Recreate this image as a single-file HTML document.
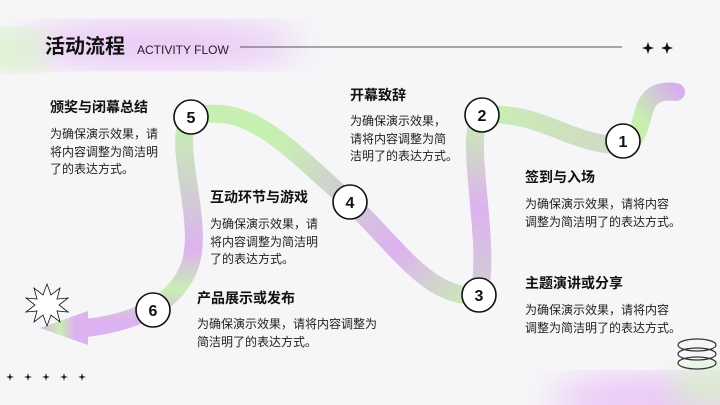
<!DOCTYPE html>
<html><head><meta charset="utf-8"><style>
body{margin:0;width:720px;height:405px;overflow:hidden;background:#f6f6f8;position:relative;font-family:"Liberation Sans","Noto Sans CJK SC",sans-serif;}
.t{position:absolute;font-weight:bold;font-size:14px;color:#111;white-space:nowrap;line-height:18px}
.b{position:absolute;font-size:12px;color:#222;line-height:17.5px;white-space:nowrap}
</style></head><body>
<svg width="720" height="405" style="position:absolute;left:0;top:0">
<defs>
<filter id="bl"><feGaussianBlur stdDeviation="18"/></filter>
<linearGradient id="g1" x1="680" y1="90" x2="620" y2="145" gradientUnits="userSpaceOnUse"><stop offset="0" stop-color="#d9acf0"/><stop offset=".6" stop-color="#c8efb2"/><stop offset="1" stop-color="#c8efb2"/></linearGradient>
<linearGradient id="g2" x1="620" y1="145" x2="482" y2="115" gradientUnits="userSpaceOnUse"><stop offset="0" stop-color="#d0d8c8"/><stop offset="1" stop-color="#c8efb2"/></linearGradient>
<linearGradient id="g3" x1="0" y1="115" x2="0" y2="300" gradientUnits="userSpaceOnUse"><stop offset="0" stop-color="#c8efb2"/><stop offset=".5" stop-color="#ddb2f0"/><stop offset="1" stop-color="#d0d0d0"/></linearGradient>
<linearGradient id="g4" x1="479" y1="300" x2="350" y2="202" gradientUnits="userSpaceOnUse"><stop offset="0" stop-color="#c8efb2"/><stop offset=".6" stop-color="#ddb2f0"/><stop offset="1" stop-color="#d2c8d8"/></linearGradient>
<linearGradient id="g5" x1="350" y1="202" x2="191" y2="117" gradientUnits="userSpaceOnUse"><stop offset="0" stop-color="#d2c8d8"/><stop offset=".5" stop-color="#c8efb2"/><stop offset="1" stop-color="#c8efb2"/></linearGradient>
<linearGradient id="g6" x1="0" y1="120" x2="0" y2="320" gradientUnits="userSpaceOnUse"><stop offset="0" stop-color="#c8efb2"/><stop offset=".35" stop-color="#d0d0d0"/><stop offset=".65" stop-color="#ddb2f0"/><stop offset=".85" stop-color="#c8efb2"/><stop offset="1" stop-color="#ddb2f0"/></linearGradient>
<linearGradient id="g7" x1="40" y1="0" x2="90" y2="0" gradientUnits="userSpaceOnUse"><stop offset="0" stop-color="#ddb2f0"/><stop offset=".4" stop-color="#c8efb2"/><stop offset=".7" stop-color="#ddb2f0"/><stop offset="1" stop-color="#ddb2f0"/></linearGradient>
</defs>
<ellipse cx="160" cy="45" rx="140" ry="22" fill="#e6b8f6" filter="url(#bl)" opacity=".8"/>
<ellipse cx="10" cy="50" rx="40" ry="20" fill="#d6f2c4" filter="url(#bl)"/>
<ellipse cx="660" cy="400" rx="110" ry="25" fill="#e6b8f6" filter="url(#bl)" opacity=".8"/>
<ellipse cx="710" cy="385" rx="40" ry="20" fill="#d6f2c4" filter="url(#bl)"/>
<g fill="none" stroke-width="18" stroke-linecap="round">
<path d="M676 92 C645 88 645 110 640 125 C636 140 630 145 620 145" stroke="url(#g1)"/>
<path d="M620 145 C570 145 540 110 482 115" stroke="url(#g2)" stroke-linecap="butt"/>
<path d="M482 115 C462 135 492 240 479 295" stroke="url(#g3)" stroke-linecap="butt"/>
<path d="M479 295 C430 300 400 250 350 202" stroke="url(#g4)" stroke-linecap="butt"/>
<path d="M350 202 C290 150 250 100 191 117" stroke="url(#g5)" stroke-linecap="butt"/>
<path d="M191 117 C170 140 205 220 190 265 C178 300 140 322 86 328" stroke="url(#g6)" stroke-linecap="butt"/>
</g>
<polygon points="40,328 88,311 88,345" fill="url(#g7)"/>
<polygon points="47,284 51,295 60,288 57,299 68,298 59,305 68,312 57,311 60,322 51,315 47,326 43,315 34,322 37,311 26,312 35,305 26,298 37,299 34,288 43,295" fill="#fff" stroke="#111" stroke-width=".8"/>
<line x1="240" y1="47" x2="622" y2="47" stroke="#555" stroke-width="1"/>
<g fill="#111">
<path d="M648 42 L650 48 L648 54 L646 48Z M642 48 L648 46 L654 48 L648 50Z"/>
<path d="M667 42 L669 48 L667 54 L665 48Z M661 48 L667 46 L673 48 L667 50Z"/>
<g id="s"><path d="M10 373 L11 377 L10 381 L9 377Z M6 377 L10 376 L14 377 L10 378Z"/></g>
<use href="#s" x="18"/><use href="#s" x="36"/><use href="#s" x="54"/><use href="#s" x="72"/>
</g>
<g fill="none" stroke="#333" stroke-width="1.2">
<ellipse cx="697" cy="345" rx="19" ry="6"/><ellipse cx="697" cy="354" rx="19" ry="6"/><ellipse cx="697" cy="363" rx="19" ry="6"/>
</g>
<g fill="#fff" stroke="#111" stroke-width="1.6">
<circle cx="623" cy="141" r="17"/><circle cx="482" cy="115" r="17"/><circle cx="479" cy="295" r="17"/>
<circle cx="350" cy="202" r="17"/><circle cx="191" cy="117" r="17"/><circle cx="153" cy="310" r="17"/>
</g>
<g font-family="Liberation Sans,sans-serif" font-weight="bold" font-size="16" text-anchor="middle" fill="#111">
<text x="623" y="147">1</text><text x="482" y="121">2</text><text x="479" y="301">3</text>
<text x="350" y="208">4</text><text x="191" y="123">5</text><text x="153" y="316">6</text>
</g>
</svg>
<div class="t" style="left:45px;top:34px;font-size:20px;line-height:26px">活动流程</div>
<div style="position:absolute;left:137px;top:43px;font-size:12px;color:#222">ACTIVITY FLOW</div>

<div class="t" style="left:50px;top:98px">颁奖与闭幕总结</div>
<div class="b" style="left:50px;top:126px">为确保演示效果，请<br>将内容调整为简洁明<br>了的表达方式。</div>

<div class="t" style="left:350px;top:86px">开幕致辞</div>
<div class="b" style="left:350px;top:113px">为确保演示效果，<br>请将内容调整为简<br>洁明了的表达方式。</div>

<div class="t" style="left:210px;top:188px">互动环节与游戏</div>
<div class="b" style="left:210px;top:216px">为确保演示效果，请<br>将内容调整为简洁明<br>了的表达方式。</div>

<div class="t" style="left:197px;top:289px">产品展示或发布</div>
<div class="b" style="left:197px;top:316px">为确保演示效果，请将内容调整为<br>简洁明了的表达方式。</div>

<div class="t" style="left:525px;top:168px">签到与入场</div>
<div class="b" style="left:525px;top:196px">为确保演示效果，请将内容<br>调整为简洁明了的表达方式。</div>

<div class="t" style="left:525px;top:274px">主题演讲或分享</div>
<div class="b" style="left:525px;top:302px">为确保演示效果，请将内容<br>调整为简洁明了的表达方式。</div>
</body></html>
